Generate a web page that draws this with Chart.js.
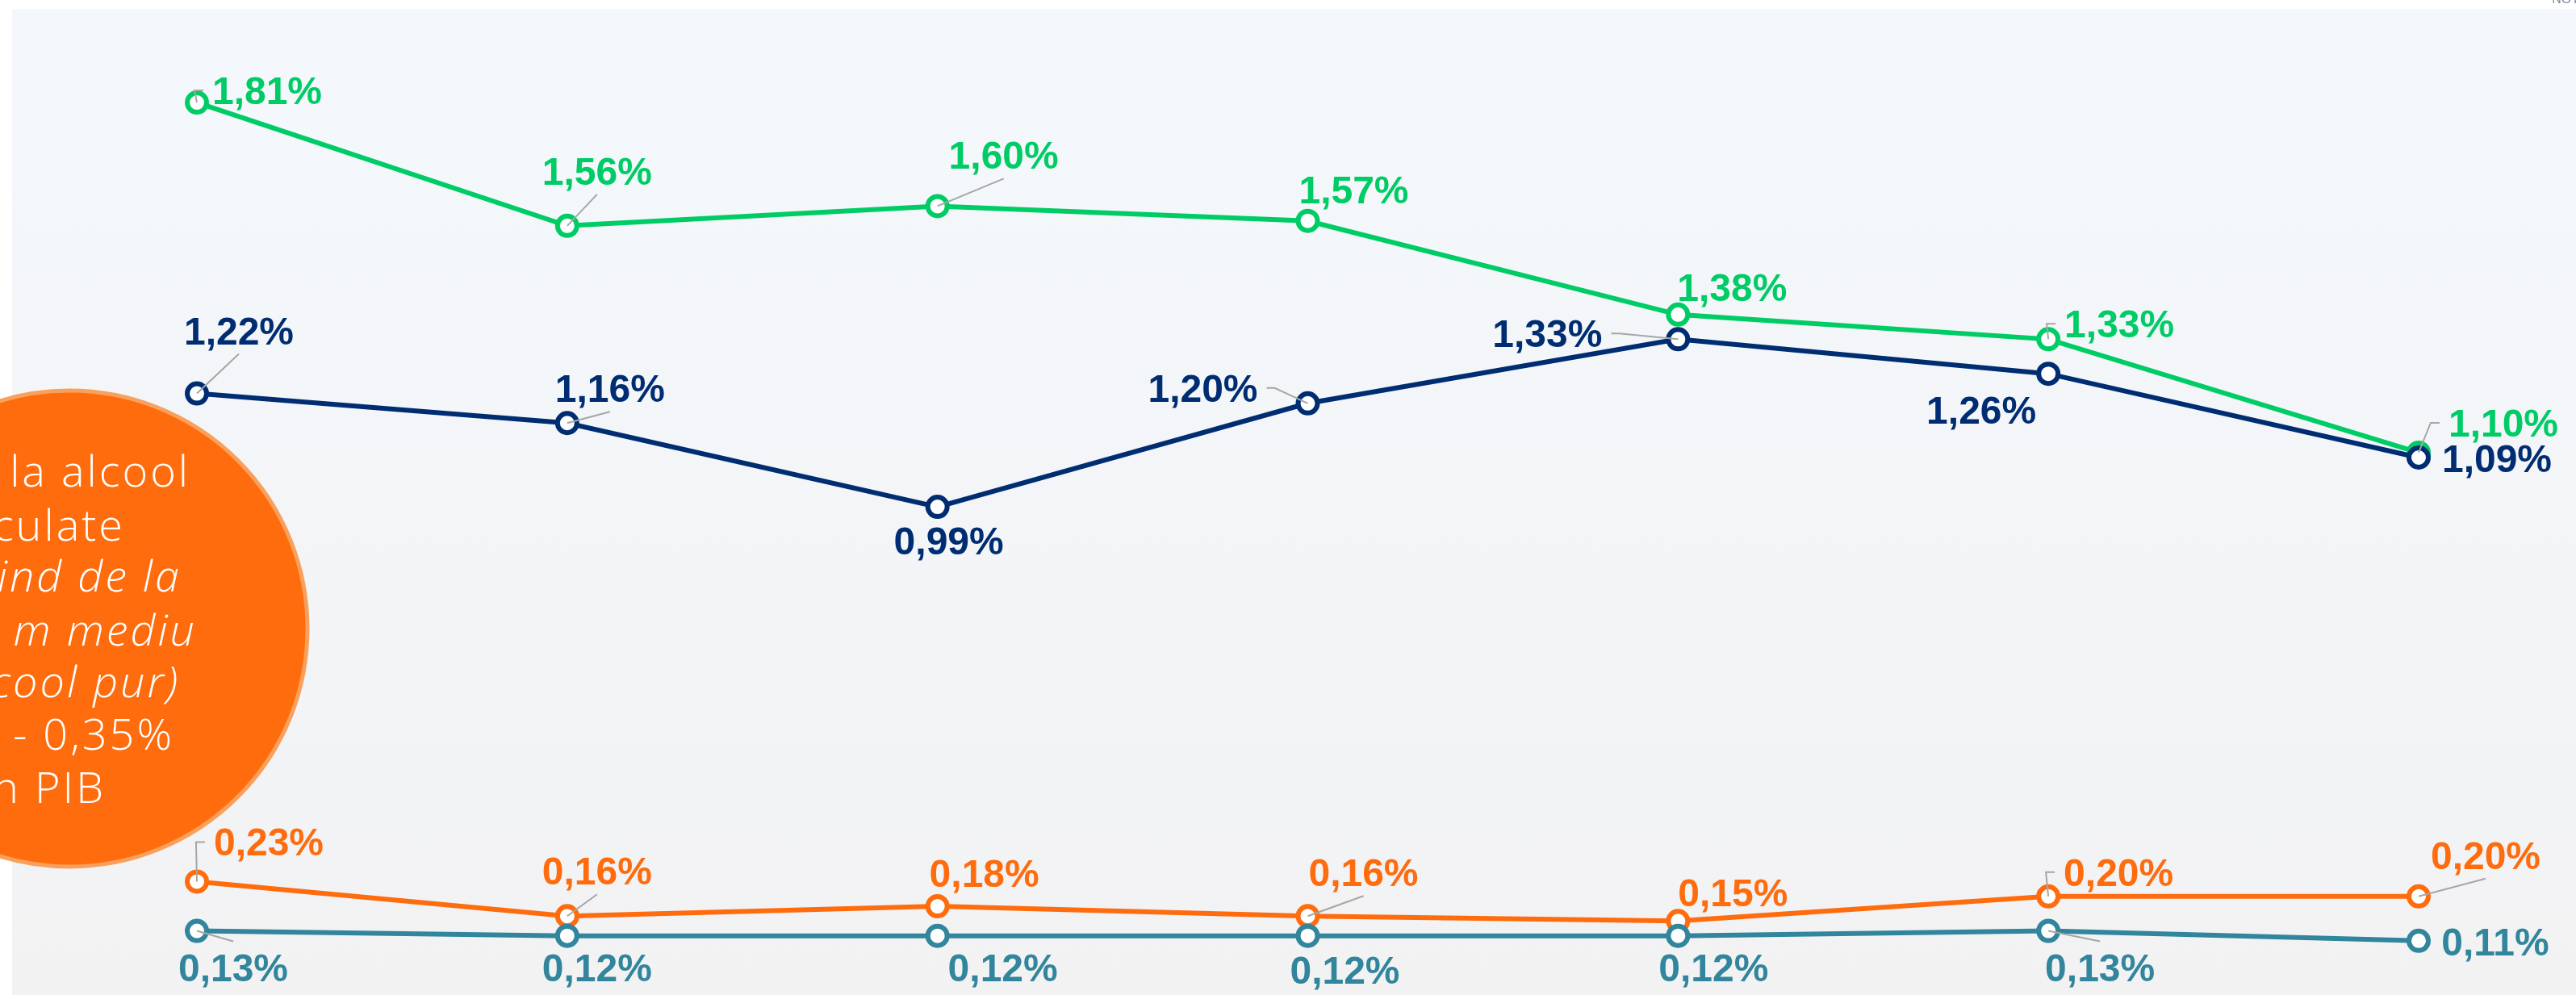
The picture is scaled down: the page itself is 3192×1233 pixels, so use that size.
<!DOCTYPE html>
<html>
<head>
<meta charset="utf-8">
<script src="https://cdn.jsdelivr.net/npm/chart.js@4.4.1/dist/chart.umd.min.js"></script>
<style>
html,body{margin:0;padding:0;background:#ffffff;overflow:hidden}
#wrap{position:relative;width:3192px;height:1233px}
</style>
</head>
<body>
<div id="wrap"><canvas id="c"></canvas></div>
<script>
// ---- data ----
const categories = ['1', '2', '3', '4', '5', '6', '7'];
const seriesGreen  = [1.81, 1.56, 1.60, 1.57, 1.38, 1.33, 1.10];
const seriesNavy   = [1.22, 1.16, 0.99, 1.20, 1.33, 1.26, 1.09];
const seriesOrange = [0.23, 0.16, 0.18, 0.16, 0.15, 0.20, 0.20];
const seriesTeal   = [0.13, 0.12, 0.12, 0.12, 0.12, 0.13, 0.11];
const bubbleText = ['la alcool', 'culate', 'ind de la', 'm mediu', 'cool pur)', '% - 0,35%', 'n PIB'];
const cornerText = 'NOT';

// ---- label layout (offsets of label centre from point, leader type) ----
const layoutGreen  = [[87,-15,'L'],[37,-68,'B'],[82,-63,'B'],[57,-39,''],[67,-34,''],[88,-19,'L'],[105,-37,'L']];
const layoutNavy   = [[52,-78,'B'],[53,-43,'B'],[14,42,''],[-130,-19,'R'],[-162,-7,'R'],[-83,45,''],[97,1,'']];
const layoutOrange = [[89,-49,'L'],[37,-56,'B'],[58,-41,''],[69,-54,'B'],[68,-35,''],[87,-30,'L'],[83,-51,'B']];
const layoutTeal   = [[45,45,'T'],[37,39,''],[81,39,''],[46,42,''],[44,39,''],[64,45,'T'],[95,1,'']];

const fmt = v => v.toFixed(2).replace('.', ',') + '%';

const bgPlugin = {
  id: 'bg',
  beforeDraw(chart) {
    const ctx = chart.ctx;
    ctx.save();
    ctx.fillStyle = '#ffffff';
    ctx.fillRect(0, 0, chart.width, chart.height);
    const g = ctx.createLinearGradient(0, 11, 0, chart.height);
    g.addColorStop(0, '#F4F8FC');
    g.addColorStop(1, '#F2F2F3');
    ctx.fillStyle = g;
    ctx.fillRect(15, 11, chart.width - 15, chart.height - 11);
    ctx.fillStyle = '#7F8AA0';
    ctx.font = '16px "Liberation Sans", Arial, sans-serif';
    ctx.textAlign = 'right';
    ctx.textBaseline = 'alphabetic';
    ctx.fillText(cornerText, chart.width + 4, 4);
    ctx.restore();
  }
};

const labelPlugin = {
  id: 'valueLabels',
  afterDatasetsDraw(chart) {
    const ctx = chart.ctx;
    chart.data.datasets.forEach((ds, di) => {
      const meta = chart.getDatasetMeta(di);
      const lay = ds.labelLayout;
      ctx.save();
      ctx.font = 'bold 48px "Liberation Sans", Arial, sans-serif';
      meta.data.forEach((pt, i) => {
        const [dx, dy, type] = lay[i];
        const txt = fmt(ds.data[i]);
        const w = ctx.measureText(txt).width;
        const cx = pt.x + dx, cy = pt.y + dy;
        const half = 17;
        if (type) {
          ctx.strokeStyle = '#A6A6A6';
          ctx.lineWidth = 2;
          ctx.beginPath();
          ctx.moveTo(pt.x, pt.y);
          if (type === 'L') {
            const end = cx - w / 2 - 11;
            ctx.lineTo(end - 11, cy);
            ctx.lineTo(end, cy);
          } else if (type === 'R') {
            const end = cx + w / 2 + 11;
            ctx.lineTo(end + 10, cy);
            ctx.lineTo(end, cy);
          } else if (type === 'B') {
            ctx.lineTo(cx, cy + half + 12);
          } else if (type === 'T') {
            ctx.lineTo(cx, cy - half - 15);
          }
          ctx.stroke();
        }
        ctx.fillStyle = ds.borderColor;
        ctx.textAlign = 'center';
        ctx.textBaseline = 'alphabetic';
        ctx.fillText(txt, cx, cy + half);
      });
      ctx.restore();
    });
  }
};

const bubblePlugin = {
  id: 'bubble',
  afterDraw(chart) {
    const ctx = chart.ctx;
    ctx.save();
    ctx.beginPath();
    ctx.arc(86, 779, 295, 0, Math.PI * 2);
    ctx.fillStyle = '#FF6C0E';
    ctx.fill();
    ctx.lineWidth = 5;
    ctx.strokeStyle = '#F9A05C';
    ctx.stroke();
    const pos = [[233,603,false],[152,670,false],[222,733,true],[241,800,true],[220,864,true],[213,929,false],[128,995,false]];
    ctx.fillStyle = '#ffffff';
    ctx.textAlign = 'right';
    ctx.textBaseline = 'alphabetic';
    if ('letterSpacing' in ctx) ctx.letterSpacing = '3px';
    bubbleText.forEach((t, i) => {
      const [x, y, it] = pos[i];
      ctx.font = (it ? 'italic ' : '') + '300 54px "Open Sans", "DejaVu Sans", sans-serif';
      ctx.fillText(t, x + 3, y);
    });
    ctx.restore();
  }
};

function mk(label, data, color, order, layout) {
  return {
    label, data, order,
    borderColor: color,
    backgroundColor: color,
    borderWidth: 6,
    pointRadius: 12,
    pointHoverRadius: 12,
    pointBorderWidth: 6,
    pointBackgroundColor: '#ffffff',
    pointBorderColor: color,
    tension: 0,
    clip: false,
    labelLayout: layout
  };
}

new Chart(document.getElementById('c'), {
  type: 'line',
  data: {
    labels: categories,
    datasets: [
      mk('Serie 1', seriesGreen, '#00CC66', 4, layoutGreen),
      mk('Serie 2', seriesNavy, '#002D72', 3, layoutNavy),
      mk('Serie 3', seriesOrange, '#FF6C0E', 2, layoutOrange),
      mk('Serie 4', seriesTeal, '#31859C', 1, layoutTeal)
    ]
  },
  options: {
    responsive: true,
    maintainAspectRatio: false,
    animation: false,
    layout: { autoPadding: false, padding: { left: 244, right: 195, top: 11, bottom: 0 } },
    plugins: { legend: { display: false }, tooltip: { enabled: false } },
    scales: {
      x: { display: false, offset: false },
      y: { display: false, min: 0, max: 2 }
    }
  },
  plugins: [bgPlugin, labelPlugin, bubblePlugin]
});
</script>
</body>
</html>
